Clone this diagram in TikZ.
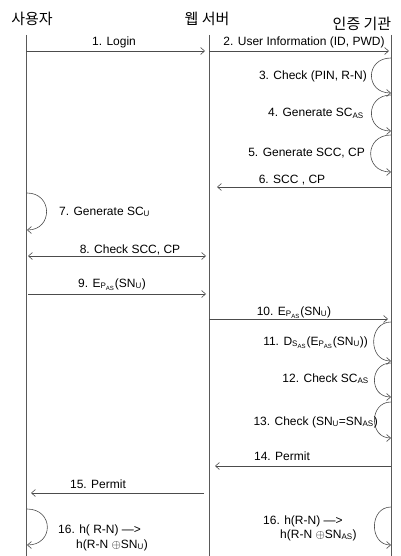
\documentclass[tikz,border=0pt]{standalone}
\usepackage{fontspec}
\setmainfont{Liberation Sans}
\newfontfamily\kr{Noto Sans CJK KR}
\usetikzlibrary{positioning, arrows.meta}

\begin{document}
\begin{tikzpicture}[
    x=1pt, y=-1pt,
    actor/.style={font=\kr\fontsize{15}{17}\selectfont, inner sep=0pt},
    lifeline/.style={draw=black!65, line width=0.6pt},
    msg/.style={-{Straight Barb[length=4pt,width=7pt]}, draw=black!70, line width=0.6pt},
    dmsg/.style={{Straight Barb[length=4pt,width=7pt]}-{Straight Barb[length=4pt,width=7pt]}, draw=black!70, line width=0.6pt},
    lbl/.style={font=\fontsize{12}{14}\selectfont, inner sep=0pt}
]
\useasboundingbox (0,0) rectangle (400,556);

% participants
\node[actor, anchor=base] (user) at (32,25) {사용자};
\node[actor, anchor=base] (server) at (207,25) {웹 서버};
\node[actor, anchor=base] (auth) at (362,30) {인증 기관};

\coordinate (U) at (26,35);  \coordinate (Uend) at (26,556);
\coordinate (W) at (209,35); \coordinate (Wend) at (209,556);
\coordinate (A) at (391,35); \coordinate (Aend) at (391,556);

\draw[lifeline] (U) -- (Uend);
\draw[lifeline] (W) -- (Wend);
\draw[lifeline] (A) -- (Aend);

% message levels
\coordinate (m1) at (0,51);
\coordinate (m6) at (0,187);
\coordinate (m8) at (0,256);
\coordinate (m9) at (0,294);
\coordinate (m10) at (0,319);
\coordinate (m14) at (0,466);
\coordinate (m15) at (0,493);

% messages
\draw[msg, shorten >=4pt] (U |- m1) -- (W |- m1);
\node[lbl, anchor=base] (t1) at (114,46) {1. Login};

\draw[msg, shorten >=2pt] (W |- m1) -- (A |- m1);
\node[lbl, anchor=base] (t2) at (304,46) {2. User Information (ID, PWD)};

\draw[msg, shorten >=8pt] (A |- m6) -- (W |- m6);
\node[lbl, anchor=base] (t6) at (292,183) {6. SCC , CP};

\draw[dmsg, shorten <=2pt, shorten >=3pt] (U |- m8) -- (W |- m8);
\node[lbl, anchor=base] (t8) at (130,253) {8. Check SCC, CP};

\draw[msg, shorten <=2pt, shorten >=3pt] (U |- m9) -- (W |- m9);
\node[lbl, anchor=base west] (t9) at (78,287) {9. E\textsubscript{P\textsubscript{AS}}(SN\textsubscript{U})};

\draw[msg, shorten >=3pt] (W |- m10) -- (A |- m10);
\node[lbl, anchor=base] (t10) at (294,315) {10. E\textsubscript{P\textsubscript{AS}}(SN\textsubscript{U})};

\draw[msg, shorten >=6pt] (A |- m14) -- (W |- m14);
\node[lbl, anchor=base] (t14) at (282,460) {14. Permit};

\draw[msg, shorten <=5pt, shorten >=5pt] (W |- m15) -- (U |- m15);
\node[lbl, anchor=base] (t15) at (98,488) {15. Permit};

% self loops at the authority
\coordinate (l3t) at (391,58);   \coordinate (l3b) at (391,93);
\coordinate (l4t) at (391,95);   \coordinate (l4b) at (391,131);
\coordinate (l5t) at (391,135);  \coordinate (l5b) at (391,172);
\coordinate (l11t) at (391,322); \coordinate (l11b) at (391,361);
\coordinate (l12t) at (391,363); \coordinate (l12b) at (391,397);
\coordinate (l13t) at (391,402); \coordinate (l13b) at (391,438);
\coordinate (l16t) at (391,507); \coordinate (l16b) at (391,545);

\draw[msg] (l3t) .. controls +(-26,0) and +(-26,0) .. (l3b);
\node[lbl, anchor=base east] (t3) at (367,80) {3. Check (PIN, R-N)};
\draw[msg] (l4t) .. controls +(-26,0) and +(-26,0) .. (l4b);
\node[lbl, anchor=base east] (t4) at (364,117) {4. Generate SC\textsubscript{AS}};
\draw[msg] (l5t) .. controls +(-27,0) and +(-27,0) .. (l5b);
\node[lbl, anchor=base east] (t5) at (365,157) {5. Generate SCC, CP};
\draw[msg] (l11t) .. controls +(-23,0) and +(-23,0) .. (l11b);
\node[lbl, anchor=base east] (t11) at (368,345) {11. D\textsubscript{S\textsubscript{AS}}(E\textsubscript{P\textsubscript{AS}}(SN\textsubscript{U}))};
\draw[msg] (l12t) .. controls +(-22,0) and +(-22,0) .. (l12b);
\node[lbl, anchor=base east] (t12) at (369,382) {12. Check SC\textsubscript{AS}};
\draw[msg] (l13t) .. controls +(-22,0) and +(-22,0) .. (l13b);
\node[lbl, anchor=base east] (t13) at (378,425) {13. Check (SN\textsubscript{U}=SN\textsubscript{AS})};
\draw[msg] (l16t) .. controls +(-22,0) and +(-22,0) .. (l16b);
\node[lbl, anchor=base west] (t16a) at (263,524) {16. h(R-N) —>};
\node[lbl, anchor=base west] (t16b) at (280,538) {h(R-N $\oplus$SN\textsubscript{AS})};

% self loops at the user
\coordinate (u7t) at (27,193);   \coordinate (u7b) at (27,230);
\coordinate (u16t) at (27,509);  \coordinate (u16b) at (27,545);

\draw[msg] (u7t) .. controls +(26,0) and +(26,0) .. (u7b);
\node[lbl, anchor=base west] (t7) at (59,215) {7. Generate SC\textsubscript{U}};
\draw[msg] (u16t) .. controls +(27,0) and +(27,0) .. (u16b);
\node[lbl, anchor=base west] (t16c) at (58,533) {16. h( R-N) —>};
\node[lbl, anchor=base west] (t16d) at (76,548) {h(R-N $\oplus$SN\textsubscript{U})};

\end{tikzpicture}
\end{document}
